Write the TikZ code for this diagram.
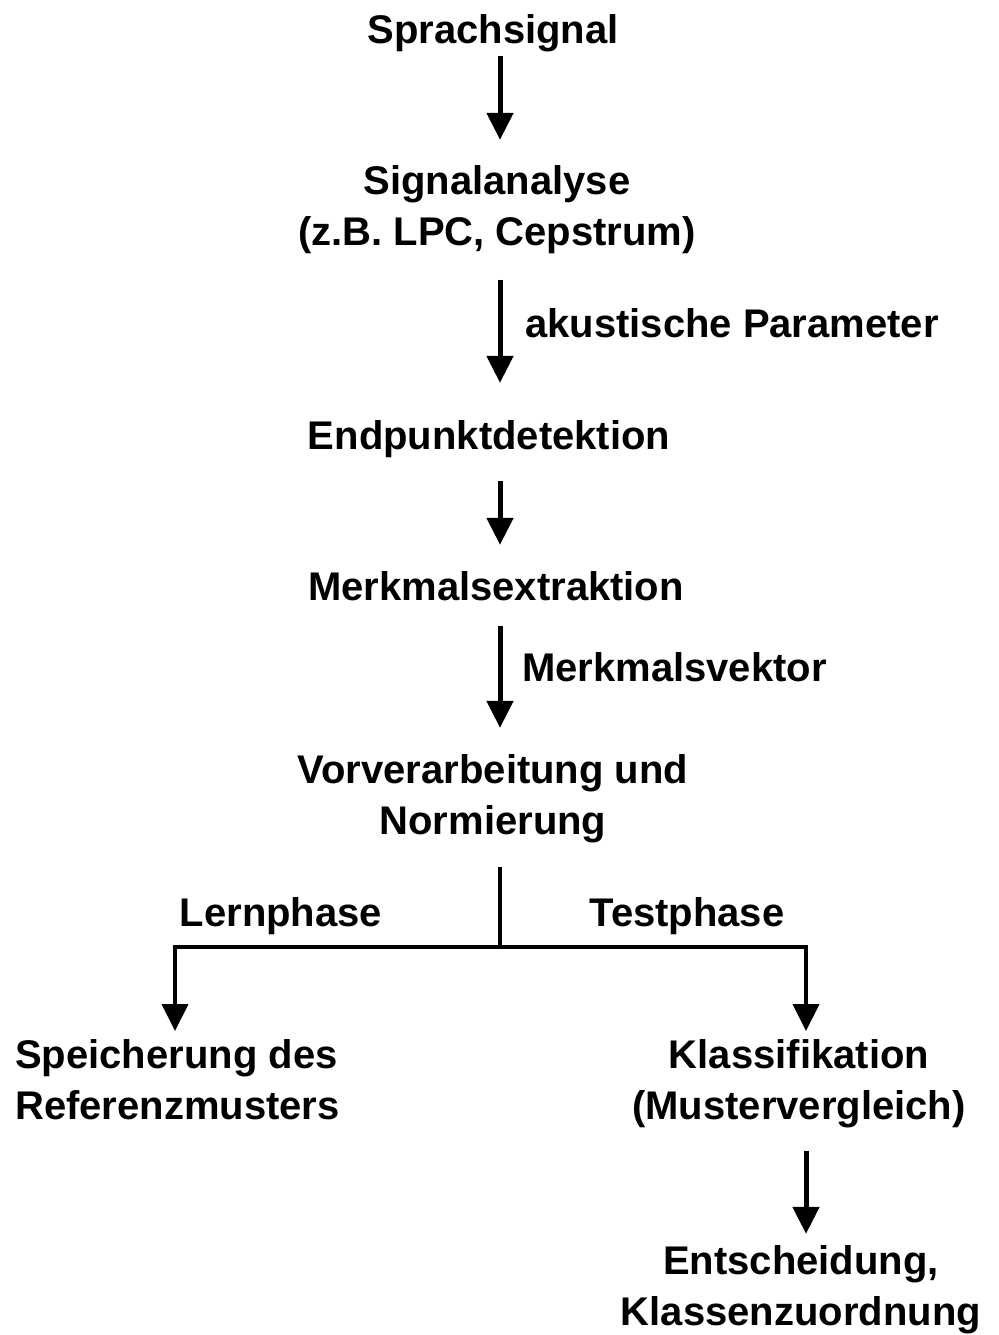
\documentclass[tikz,border=0pt]{standalone}
\usepackage{fontspec}
\setmainfont{Liberation Sans}
\usetikzlibrary{arrows.meta}
\begin{document}
\begin{tikzpicture}[x=1pt,y=-1pt,
  lbl/.style={inner sep=0pt, font=\fontsize{40}{51}\selectfont\bfseries, anchor=base},
  arr/.style={line width=5pt, -{Triangle[length=27pt,width=26pt]}},
  branch/.style={line width=4pt},
  barr/.style={line width=4pt, -{Triangle[length=27pt,width=26pt]}}]
\useasboundingbox (0,0) rectangle (998,1335);
\coordinate (axis) at (500,0);
% main chain of processing steps (multi-line nodes sit on their last baseline)
\node[lbl] (sprach) at (493,44) {Sprachsignal};
\node[lbl, align=center] (sig) at (497,245) {Signalanalyse\\(z.B. LPC, Cepstrum)};
\node[lbl] (end) at (489,449) {Endpunktdetektion};
\node[lbl] (merk) at (496,600) {Merkmalsextraktion};
\node[lbl, align=center] (vor) at (493,834) {Vorverarbeitung und\\Normierung};
% edge labels
\node[lbl, anchor=base west] (akp) at (525,337) {akustische Parameter};
\node[lbl, anchor=base west] (mvk) at (522,681) {Merkmalsvektor};
\node[lbl] (lern) at (281,926) {Lernphase};
\node[lbl] (test) at (687,926) {Testphase};
% branch targets
\node[lbl, align=left, anchor=base west] (speich) at (15,1119) {Speicherung des\\Referenzmusters};
\node[lbl, align=center] (klass) at (799,1119) {Klassifikation\\(Mustervergleich)};
\node[lbl, align=center] (ents) at (801,1325) {Entscheidung,\\Klassenzuordnung};
% connectors
\coordinate (split) at (500,947);
\coordinate (ltip) at (175,1031);
\coordinate (rtip) at (806,1031);
\draw[arr, shorten <=3pt, shorten >=25pt] (sprach.south -| axis) -- (sig.north -| axis);
\draw[arr, shorten <=26pt, shorten >=37pt] (sig.south -| axis) -- (end.north -| axis);
\draw[arr, shorten <=23pt, shorten >=26pt] (end.south -| axis) -- (merk.north -| axis);
\draw[arr, shorten <=25pt, shorten >=26pt] (merk.south -| axis) -- (vor.north -| axis);
\draw[branch, shorten <=24pt] (vor.south -| axis) -- (split);
\draw[barr] (split) -| (ltip);
\draw[barr] (split) -| (rtip);
\draw[arr, shorten <=23pt, shorten >=11pt] (klass.south -| rtip) -- (ents.north -| rtip);
\end{tikzpicture}
\end{document}
